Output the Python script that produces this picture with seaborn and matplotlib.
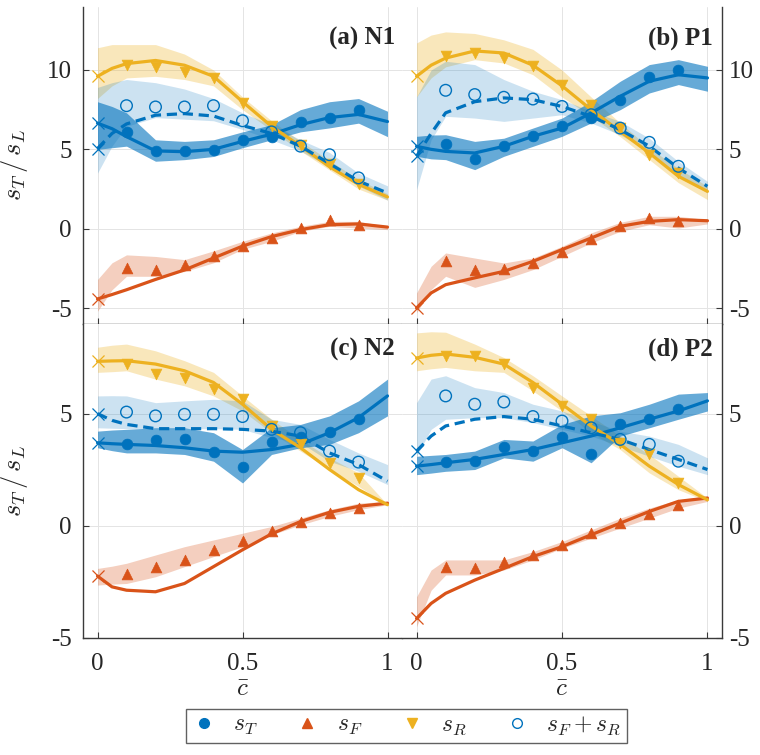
import matplotlib
matplotlib.use("Agg")
import matplotlib.pyplot as plt
from matplotlib.lines import Line2D
import seaborn as sns

# progress variable grid for curves/bands, and sample locations for symbols
C_GRID = [0.0, 0.05, 0.1, 0.2, 0.3, 0.4, 0.5, 0.6, 0.7, 0.8, 0.9, 1.0]
C_PTS = [0.1, 0.2, 0.3, 0.4, 0.5, 0.6, 0.7, 0.8, 0.9]

# ---------------- (a) N1 ----------------
N1_T_LINE = [6.65, 6.3, 5.8, 4.9, 4.85, 5.0, 5.5, 5.95, 6.55, 7.0, 7.2, 6.75]
N1_T_PTS = [6.1, 4.87, 4.87, 4.94, 5.57, 5.8, 6.7, 7.0, 7.5]
N1_T_LO = [5.0, 5.1, 5.2, 4.25, 4.35, 4.55, 5.1, 5.6, 6.1, 6.35, 6.65, 5.8]
N1_T_HI = [8.0, 7.7, 7.3, 5.6, 5.5, 5.6, 6.1, 6.55, 7.5, 8.0, 8.2, 7.4]
N1_FR_LINE = [5.05, 6.0, 6.6, 7.15, 7.25, 7.1, 6.5, 6.0, 5.2, 4.1, 3.0, 2.25]
N1_FR_PTS = [7.75, 7.67, 7.67, 7.75, 6.8, 6.1, 5.2, 4.66, 3.2]
N1_FR_LO = [3.5, 5.2, 6.45, 7.0, 6.9, 6.8, 6.25, 5.6, 4.9, 3.9, 2.7, 1.8]
N1_FR_HI = [8.9, 9.2, 9.4, 9.2, 8.8, 8.2, 7.3, 6.55, 5.6, 4.8, 3.5, 2.7]
N1_R_LINE = [9.6, 10.1, 10.4, 10.6, 10.3, 9.6, 8.0, 6.45, 5.2, 3.9, 2.8, 2.0]
N1_R_PTS = [10.3, 10.2, 9.9, 9.5, 7.9, 6.5, 5.3, 4.1, 2.8]
N1_R_LO = [8.2, 9.0, 9.5, 9.6, 9.4, 9.0, 7.5, 6.2, 4.9, 3.7, 2.5, 1.8]
N1_R_HI = [11.4, 11.6, 11.6, 11.6, 11.0, 10.0, 8.3, 6.8, 5.5, 4.3, 3.1, 2.2]
N1_F_LINE = [-4.43, -4.15, -3.85, -3.2, -2.6, -1.85, -1.1, -0.5, -0.06, 0.25, 0.3, 0.1]
N1_F_PTS = [-2.5, -2.6, -2.27, -1.7, -1.07, -0.6, 0.04, 0.52, 0.25]
N1_F_LO = [-5.2, -3.85, -3.0, -3.0, -2.7, -2.15, -1.3, -0.8, -0.17, 0.15, 0.04, -0.06]
N1_F_HI = [-3.2, -2.15, -1.65, -1.75, -1.95, -1.4, -0.8, -0.27, 0.15, 0.46, 0.46, 0.15]

# ---------------- (b) P1 ----------------
P1_T_LINE = [5.19, 5.0, 4.87, 4.77, 5.19, 5.82, 6.34, 7.29, 8.34, 9.29, 9.7, 9.5]
P1_T_PTS = [5.36, 4.39, 5.19, 5.82, 6.45, 6.97, 8.13, 9.56, 9.98]
P1_T_LO = [4.56, 4.4, 4.35, 3.72, 4.56, 5.19, 5.82, 6.66, 7.5, 8.55, 9.08, 8.66]
P1_T_HI = [5.82, 5.9, 5.92, 5.5, 5.7, 6.34, 6.97, 8.02, 9.29, 10.34, 10.65, 10.23]
P1_FR_LINE = [4.56, 6.0, 7.3, 8.0, 8.24, 8.13, 7.7, 7.08, 6.24, 5.2, 3.82, 2.67]
P1_FR_PTS = [8.72, 8.45, 8.28, 8.17, 7.7, 7.18, 6.34, 5.44, 3.93]
P1_FR_LO = [2.46, 5.6, 7.08, 6.97, 6.76, 6.97, 7.18, 6.66, 5.92, 4.87, 3.4, 2.25]
P1_FR_HI = [8.3, 10.0, 10.55, 10.34, 9.4, 8.66, 8.13, 7.4, 6.76, 5.7, 4.24, 2.98]
P1_R_LINE = [9.6, 10.3, 10.75, 11.2, 11.07, 10.3, 9.0, 7.5, 6.13, 4.77, 3.3, 2.35]
P1_R_PTS = [10.86, 11.07, 10.75, 10.23, 9.08, 7.8, 6.34, 4.66, 3.5]
P1_R_LO = [8.3, 9.5, 10.2, 10.65, 10.44, 9.7, 8.3, 7.08, 5.8, 4.35, 2.9, 1.83]
P1_R_HI = [11.7, 12.2, 12.4, 12.3, 11.9, 11.3, 10.0, 8.3, 6.66, 5.1, 3.8, 2.67]
P1_F_LINE = [-5.0, -4.05, -3.53, -3.1, -2.69, -2.06, -1.32, -0.59, 0.15, 0.46, 0.57, 0.5]
P1_F_PTS = [-2.06, -2.63, -2.54, -2.16, -1.47, -0.63, 0.19, 0.67, 0.46]
P1_F_LO = [-5.3, -3.84, -3.0, -3.7, -3.2, -2.58, -1.74, -0.9, -0.17, 0.25, 0.04, 0.3]
P1_F_HI = [-4.05, -2.37, -1.53, -1.85, -2.16, -1.85, -1.11, -0.27, 0.4, 0.78, 0.78, 0.57]

# ---------------- (c) N2 ----------------
N2_T_LINE = [3.7, 3.66, 3.63, 3.58, 3.48, 3.33, 3.28, 3.4, 3.63, 4.15, 4.82, 5.79]
N2_T_PTS = [3.63, 3.82, 3.85, 3.28, 2.63, 3.75, 3.95, 4.18, 4.75]
N2_T_LO = [3.48, 3.35, 3.25, 3.25, 3.18, 2.88, 1.91, 3.18, 3.48, 3.63, 4.15, 4.9]
N2_T_HI = [4.22, 4.27, 4.3, 4.37, 4.37, 4.15, 3.4, 4.37, 4.52, 4.9, 5.57, 6.54]
N2_FR_LINE = [5.0, 4.7, 4.52, 4.33, 4.33, 4.33, 4.3, 4.22, 4.0, 3.25, 2.73, 1.99]
N2_FR_PTS = [5.07, 4.9, 4.97, 4.97, 4.87, 4.3, 4.15, 3.33, 2.84]
N2_FR_LO = [4.37, 4.35, 4.33, 4.33, 4.33, 4.33, 4.3, 3.93, 3.7, 2.88, 2.43, 1.84]
N2_FR_HI = [5.79, 5.8, 5.79, 5.49, 5.57, 5.64, 5.57, 4.75, 4.52, 3.85, 3.25, 2.73]
N2_R_LINE = [7.33, 7.35, 7.36, 7.21, 6.91, 6.39, 5.42, 4.3, 3.48, 2.51, 1.61, 0.94]
N2_R_PTS = [7.21, 6.76, 6.61, 6.09, 5.64, 4.45, 3.63, 2.81, 2.13]
N2_R_LO = [6.84, 6.87, 6.91, 6.54, 6.24, 5.79, 5.12, 4.15, 3.33, 2.51, 1.76, 0.94]
N2_R_HI = [7.96, 8.05, 8.1, 7.8, 7.36, 6.84, 5.79, 4.75, 3.85, 3.03, 2.36, 0.94]
N2_F_LINE = [-2.24, -2.72, -2.87, -2.94, -2.57, -1.82, -1.07, -0.36, 0.19, 0.6, 0.87, 1.01]
N2_F_PTS = [-2.16, -1.85, -1.52, -1.07, -0.66, -0.21, 0.19, 0.57, 0.79]
N2_F_LO = [-2.64, -2.6, -2.57, -2.27, -1.82, -1.37, -0.93, -0.4, 0.04, 0.42, 0.72, 0.94]
N2_F_HI = [-1.9, -1.8, -1.67, -1.3, -0.93, -0.63, -0.33, -0.03, 0.34, 0.72, 1.01, 1.09]

# ---------------- (d) P2 ----------------
P2_T_LINE = [2.66, 2.73, 2.81, 2.96, 3.18, 3.4, 3.7, 4.0, 4.37, 4.75, 5.12, 5.57]
P2_T_PTS = [2.84, 2.91, 3.52, 3.33, 3.97, 3.21, 4.52, 4.78, 5.19]
P2_T_LO = [2.28, 2.35, 2.43, 2.51, 3.03, 2.88, 3.48, 2.81, 4.0, 4.37, 4.75, 5.12]
P2_T_HI = [3.1, 3.14, 3.18, 3.33, 3.85, 3.78, 4.52, 4.9, 5.04, 5.42, 5.87, 5.94]
P2_FR_LINE = [3.33, 4.0, 4.45, 4.75, 4.87, 4.75, 4.45, 4.15, 3.85, 3.4, 2.96, 2.51]
P2_FR_PTS = [5.79, 5.42, 5.52, 4.87, 4.67, 4.37, 3.85, 3.63, 2.88]
P2_FR_LO = [3.1, 4.3, 4.75, 4.82, 4.82, 4.6, 4.3, 4.0, 3.55, 3.1, 2.66, 2.28]
P2_FR_HI = [5.49, 6.54, 6.69, 6.16, 5.94, 5.42, 5.12, 4.67, 4.22, 4.0, 3.63, 3.03]
P2_R_LINE = [7.48, 7.6, 7.66, 7.51, 7.21, 6.39, 5.42, 4.45, 3.63, 2.66, 1.84, 1.16]
P2_R_PTS = [7.58, 7.55, 7.21, 6.16, 5.34, 4.75, 3.7, 3.18, 1.91]
P2_R_LO = [6.91, 7.0, 7.06, 6.91, 6.84, 6.01, 5.12, 4.15, 3.4, 2.36, 1.61, 1.09]
P2_R_HI = [8.6, 8.65, 8.63, 8.1, 7.5, 6.69, 5.79, 4.9, 4.0, 3.18, 2.21, 1.24]
P2_F_LINE = [-4.13, -3.46, -3.01, -2.42, -1.9, -1.37, -0.93, -0.4, 0.12, 0.64, 1.09, 1.24]
P2_F_PTS = [-1.85, -1.9, -1.6, -1.3, -0.85, -0.3, 0.12, 0.54, 0.94]
P2_F_LO = [-4.5, -2.87, -2.19, -2.19, -1.97, -1.52, -1.0, -0.55, -0.1, 0.34, 0.79, 1.09]
P2_F_HI = [-3.16, -1.97, -1.52, -1.52, -1.52, -1.15, -0.7, -0.18, 0.34, 0.79, 1.16, 1.31]

PANEL_TITLES = ["(a) N1", "(b) P1", "(c) N2", "(d) P2"]
X_TICKS = [0, 0.5, 1]
X_TICK_LABELS = ["0", "0.5", "1"]
Y_TICKS_TOP = [-5, 0, 5, 10]
Y_TICKS_BOTTOM = [-5, 0, 5]
LEGEND_LABELS = [r"$s_T$", r"$s_F$", r"$s_R$", r"$s_F+s_R$"]

BLUE = "#0072BD"
ORANGE = "#D95319"
YELLOW = "#EDB120"
SPINE = "#3a3a3a"

sns.set_theme(style="white")
plt.rcParams["font.family"] = ["Liberation Serif", "DejaVu Serif"]
plt.rcParams["mathtext.fontset"] = "cm"
plt.rcParams["axes.unicode_minus"] = False

panels = [
    dict(T=(N1_T_LINE, N1_T_PTS, N1_T_LO, N1_T_HI), FR=(N1_FR_LINE, N1_FR_PTS, N1_FR_LO, N1_FR_HI),
         R=(N1_R_LINE, N1_R_PTS, N1_R_LO, N1_R_HI), F=(N1_F_LINE, N1_F_PTS, N1_F_LO, N1_F_HI)),
    dict(T=(P1_T_LINE, P1_T_PTS, P1_T_LO, P1_T_HI), FR=(P1_FR_LINE, P1_FR_PTS, P1_FR_LO, P1_FR_HI),
         R=(P1_R_LINE, P1_R_PTS, P1_R_LO, P1_R_HI), F=(P1_F_LINE, P1_F_PTS, P1_F_LO, P1_F_HI)),
    dict(T=(N2_T_LINE, N2_T_PTS, N2_T_LO, N2_T_HI), FR=(N2_FR_LINE, N2_FR_PTS, N2_FR_LO, N2_FR_HI),
         R=(N2_R_LINE, N2_R_PTS, N2_R_LO, N2_R_HI), F=(N2_F_LINE, N2_F_PTS, N2_F_LO, N2_F_HI)),
    dict(T=(P2_T_LINE, P2_T_PTS, P2_T_LO, P2_T_HI), FR=(P2_FR_LINE, P2_FR_PTS, P2_FR_LO, P2_FR_HI),
         R=(P2_R_LINE, P2_R_PTS, P2_R_LO, P2_R_HI), F=(P2_F_LINE, P2_F_PTS, P2_F_LO, P2_F_HI)),
]

# series style: colour, band alpha, marker, filled, line style
STYLE = {
    "T": (BLUE, 0.6, "o", True, "-"),
    "F": (ORANGE, 0.28, "^", True, "-"),
    "R": (YELLOW, 0.30, "v", True, "-"),
    "FR": (BLUE, 0.20, "o", False, (0, (3.2, 1.8))),
}

fig = plt.figure(figsize=(7.6, 7.55), dpi=100)
W, H = 760.0, 755.0
# axes rectangles in pixels: (left, bottom-from-top, right, top-from-top)
rects = [(83, 323.9, 402, 6.5), (402, 323.9, 722, 6.5),
         (83, 638, 402, 323.9), (402, 638, 722, 323.9)]

for i, (d, title, (x0, yb, x1, yt)) in enumerate(zip(panels, PANEL_TITLES, rects)):
    ax = fig.add_axes([x0 / W, 1 - yb / H, (x1 - x0) / W, (yb - yt) / H])
    top = i < 2
    right = i % 2 == 1
    ax.set_facecolor("white")
    ax.grid(True, color="#e4e4e4", lw=0.7)
    ax.set_axisbelow(True)

    for key in ["R", "FR", "T", "F"]:
        col, alpha = STYLE[key][0], STYLE[key][1]
        _, _, lo, hi = d[key]
        ax.fill_between(C_GRID, lo, hi, color=col, alpha=alpha, lw=0)

    for key in ["T", "F", "R", "FR"]:
        col, _, _, _, ls = STYLE[key]
        line = d[key][0]
        sns.lineplot(x=C_GRID, y=line, ax=ax, color=col, lw=2.3, linestyle=ls)
        sns.scatterplot(x=[C_GRID[0]], y=[line[0]], ax=ax, marker="x", s=75,
                        color=col, linewidth=0.9, clip_on=False, zorder=4)

    for key in ["T", "F", "R", "FR"]:
        col, _, mk, filled, _ = STYLE[key]
        pts = d[key][1]
        if filled:
            sns.scatterplot(x=C_PTS, y=pts, ax=ax, marker=mk, s=60, color=col,
                            edgecolor=col, linewidth=0.5, zorder=5)
        else:
            sns.scatterplot(x=C_PTS, y=pts, ax=ax, marker=mk, s=70, facecolors="none",
                            edgecolor=col, linewidth=1.0, zorder=5)

    ax.set_xlim(-0.05, 1.05)
    if top:
        ax.set_ylim(-6, 14)
        ax.set_yticks(Y_TICKS_TOP)
        ax.set_yticklabels([str(t) for t in Y_TICKS_TOP])
    else:
        ax.set_ylim(-5, 9)
        ax.set_yticks(Y_TICKS_BOTTOM)
        ax.set_yticklabels([str(t) for t in Y_TICKS_BOTTOM])
    ax.set_xticks(X_TICKS)
    if top:
        ax.set_xticklabels([])
    else:
        ax.set_xticklabels(X_TICK_LABELS)
        ax.set_xlabel(r"$\bar{c}$", fontsize=18, labelpad=2)

    for s in ax.spines.values():
        s.set_visible(False)
    ax.spines["bottom"].set_visible(True)
    ax.spines["bottom"].set_color(SPINE)
    ax.spines["bottom"].set_linewidth(1.0)
    side = "right" if right else "left"
    ax.spines[side].set_visible(True)
    ax.spines[side].set_color(SPINE)
    ax.spines[side].set_linewidth(1.0)

    ax.tick_params(axis="x", direction="in", length=4, width=0.8, color=SPINE,
                   labelsize=18, pad=11, bottom=True, top=False)
    if right:
        ax.yaxis.tick_right()
        ax.tick_params(axis="y", direction="in", length=4, width=0.8, color=SPINE,
                       labelsize=18, pad=5, left=False, right=True)
    else:
        ax.tick_params(axis="y", direction="in", length=4, width=0.8, color=SPINE,
                       labelsize=18, pad=8, left=True, right=False)
        ax.set_ylabel(r"$s_T\,/\,s_L$", fontsize=19)
        ax.yaxis.set_label_coords(-0.165, 0.5)

    tx = 0.978 if not right else 0.97
    ty = 0.88 if top else 0.90
    ax.text(tx, ty, title, transform=ax.transAxes, ha="right", va="baseline",
            fontsize=18, fontweight="bold", zorder=10)

handles = [
    Line2D([], [], ls="none", marker="o", color=BLUE, markersize=7),
    Line2D([], [], ls="none", marker="^", color=ORANGE, markersize=7),
    Line2D([], [], ls="none", marker="v", color=YELLOW, markersize=7),
    Line2D([], [], ls="none", marker="o", markerfacecolor="none", markeredgecolor=BLUE,
           markersize=7, markeredgewidth=1.0),
]
leg = fig.legend(handles, LEGEND_LABELS, loc="lower center", bbox_to_anchor=(0.535, 0.0),
                 ncol=4, fontsize=17, frameon=True, fancybox=False, handlelength=1.0,
                 handletextpad=0.75, columnspacing=1.6, borderpad=0.25)
leg.get_frame().set_edgecolor(SPINE)
leg.get_frame().set_linewidth(1.0)

fig.savefig("out.png", dpi=100, facecolor="white")
